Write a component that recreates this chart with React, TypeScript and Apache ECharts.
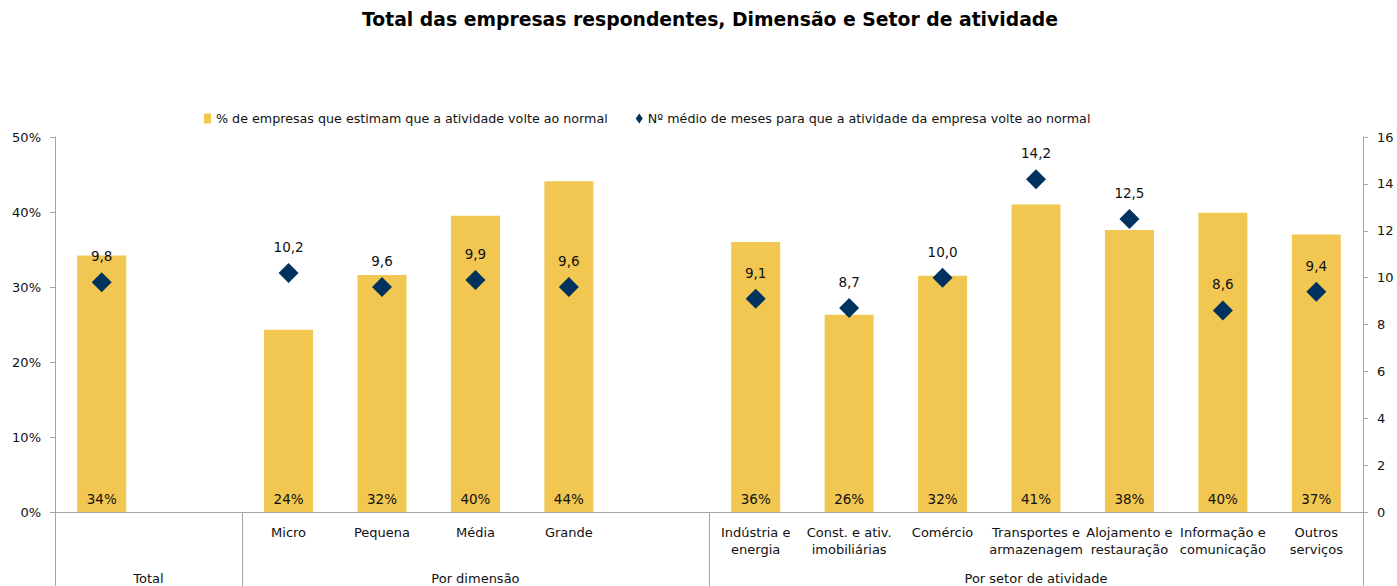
import React, { useEffect, useRef } from "react";
import * as echarts from "echarts";

const categories = [
  "Total",
  "",
  "Micro",
  "Pequena",
  "Média",
  "Grande",
  " ",
  "Indústria e\nenergia",
  "Const. e ativ.\nimobiliárias",
  "Comércio",
  "Transportes e\narmazenagem",
  "Alojamento e\nrestauração",
  "Informação e\ncomunicação",
  "Outros\nserviços",
];
const pctValues = [34.2, null, 24.3, 31.6, 39.5, 44.1, null, 36.0, 26.3, 31.5, 41.0, 37.6, 39.9, 37.0];
const monthsValues = [9.8, null, 10.2, 9.6, 9.9, 9.6, null, 9.1, 8.7, 10.0, 14.2, 12.5, 8.6, 9.4];
const groupNames = ["Total", "Por dimensão", "Por setor de atividade"];
const groupBounds = [0, 2, 7, 14];
const barName = "% de empresas que estimam que a atividade volte ao normal";
const pointName = "Nº médio de meses para que a atividade da empresa volte ao normal";

const FONT = "DejaVu Sans";
const TEXT = "#111111";
const AXIS = "#a6a6a6";

export default function App() {
  const ref = useRef<HTMLDivElement>(null);
  useEffect(() => {
    if (!ref.current) return;
    const chart = echarts.init(ref.current, undefined, { renderer: "svg" });
    chart.setOption({
      animation: false,
      backgroundColor: "#ffffff",
      title: {
        text: "Total das empresas respondentes, Dimensão e Setor de atividade",
        left: 362,
        top: 10,
        padding: 0,
        textStyle: { fontFamily: FONT, fontSize: 18.8, fontWeight: "bold", color: "#000" },
      },
      legend: {
        left: 199,
        top: 107,
        itemWidth: 7,
        itemHeight: 10,
        itemGap: 28,
        textStyle: { fontFamily: FONT, fontSize: 12.7, color: TEXT },
        data: [
          { name: barName, icon: "rect" },
          { name: pointName, icon: "diamond" },
        ],
      },
      grid: { left: 55, right: 34, top: 137, bottom: 74, containLabel: false },
      xAxis: {
        type: "category",
        data: categories,
        boundaryGap: true,
        axisLine: { lineStyle: { color: AXIS, width: 1 } },
        axisTick: { show: false },
        axisLabel: {
          interval: 0,
          margin: 12,
          fontFamily: FONT,
          fontSize: 13,
          lineHeight: 17,
          color: TEXT,
          formatter: (v: string, i: number) => (i === 0 ? "" : v),
        },
      },
      yAxis: [
        {
          type: "value",
          min: 0,
          max: 50,
          interval: 10,
          position: "left",
          splitLine: { show: false },
          axisLine: { show: true, lineStyle: { color: AXIS } },
          axisTick: { show: true, length: 5, lineStyle: { color: AXIS } },
          axisLabel: {
            formatter: "{value}%",
            margin: 14,
            fontFamily: FONT,
            fontSize: 13,
            color: TEXT,
          },
        },
        {
          type: "value",
          min: 0,
          max: 16,
          interval: 2,
          position: "right",
          splitLine: { show: false },
          axisLine: { show: true, lineStyle: { color: AXIS } },
          axisTick: { show: true, length: 5, lineStyle: { color: AXIS } },
          axisLabel: {
            margin: 14,
            fontFamily: FONT,
            fontSize: 13,
            color: TEXT,
          },
        },
      ],
      series: [
        {
          name: barName,
          type: "bar",
          yAxisIndex: 0,
          data: pctValues,
          barWidth: 49,
          itemStyle: { color: "#F2C751" },
          label: {
            show: true,
            position: "insideBottom",
            distance: 6,
            fontFamily: FONT,
            fontSize: 13.5,
            color: TEXT,
            formatter: (p: any) => Math.round(p.value) + "%",
          },
        },
        {
          name: pointName,
          type: "scatter",
          yAxisIndex: 1,
          data: monthsValues,
          symbol: "diamond",
          symbolSize: 20,
          itemStyle: { color: "#00325F", opacity: 1 },
          label: {
            show: true,
            position: "top",
            distance: 9,
            fontFamily: FONT,
            fontSize: 13.5,
            color: TEXT,
            opacity: 1,
            formatter: (p: any) => Number(p.value).toFixed(1).replace(".", ","),
          },
        },
      ],
    });

    const x0 = chart.convertToPixel({ xAxisIndex: 0 }, 0) as number;
    const x1 = chart.convertToPixel({ xAxisIndex: 0 }, 1) as number;
    const band = x1 - x0;
    const y0 = chart.convertToPixel({ yAxisIndex: 0 }, 0) as number;
    const boundary = (i: number) => x0 + (i - 0.5) * band;
    const H = 586;
    const elements: any[] = [];
    groupBounds.forEach((b) => {
      elements.push({
        type: "line",
        shape: { x1: Math.round(boundary(b)) + 0.5, y1: y0, x2: Math.round(boundary(b)) + 0.5, y2: H },
        style: { stroke: AXIS, lineWidth: 1 },
        silent: true,
      });
    });
    groupNames.forEach((g, k) => {
      const cx = (boundary(groupBounds[k]) + boundary(groupBounds[k + 1])) / 2;
      elements.push({
        type: "text",
        x: cx,
        y: 578,
        style: {
          text: g,
          fontFamily: FONT,
          fontSize: 13,
          fill: TEXT,
          align: "center",
          verticalAlign: "middle",
        },
        silent: true,
      });
    });
    chart.setOption({ graphic: { elements } });

    return () => chart.dispose();
  }, []);

  return (
    <div
      ref={ref}
      style={{ position: "fixed", left: 0, top: 0, width: 1397, height: 586, background: "#fff" }}
    />
  );
}
